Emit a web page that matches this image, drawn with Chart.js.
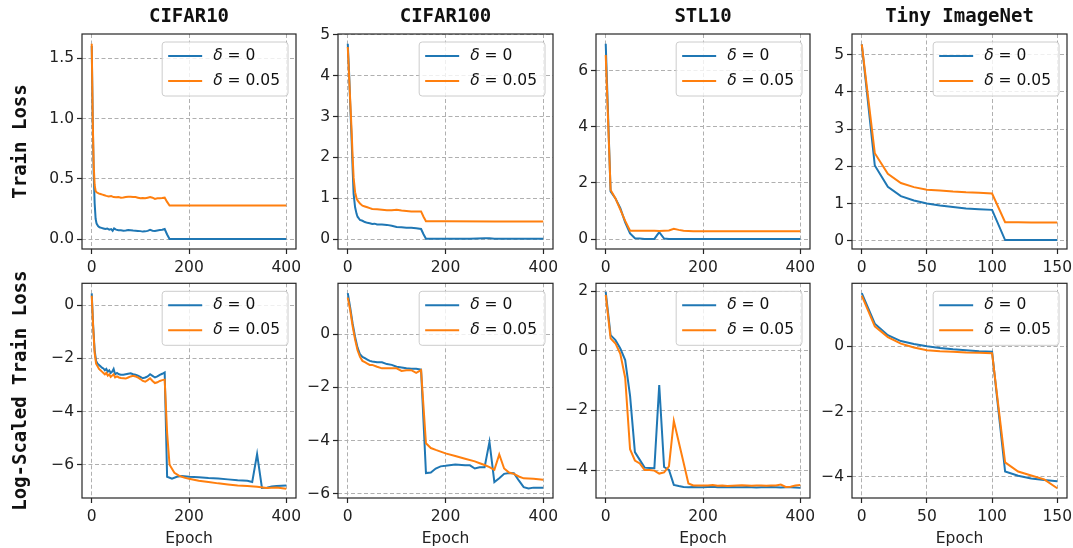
<!DOCTYPE html>
<html>
<head>
<meta charset="utf-8">
<script src="https://cdn.jsdelivr.net/npm/chart.js@4.4.1/dist/chart.umd.min.js"></script>
<style>
  html, body { margin: 0; padding: 0; background: #fff; width: 1073px; height: 548px; overflow: hidden; }
  canvas { position: absolute; }
</style>
</head>
<body>
<script>
// ---- labels ----
const datasetTitles = ['CIFAR10', 'CIFAR100', 'STL10', 'Tiny ImageNet'];
const rowTitles = ['Train Loss', 'Log-Scaled Train Loss'];
const seriesNames = ['δ = 0', 'δ = 0.05'];
const xLabel = 'Epoch';

// ---- tick values / labels ----
const xTicks400 = [0, 200, 400];
const xTicks150 = [0, 50, 100, 150];
const yTicksC10 = [0, 0.5, 1, 1.5];
const yLabelsC10 = ['0.0', '0.5', '1.0', '1.5'];
const yTicks05 = [0, 1, 2, 3, 4, 5];
const yTicksStl = [0, 2, 4, 6];
const yTicksLogC = [0, -2, -4, -6];
const yLabelsLogC = ['0', '−2', '−4', '−6'];
const yTicksLogStl = [2, 0, -2, -4];
const yLabelsLogStl = ['2', '0', '−2', '−4'];
const yTicksLogTiny = [0, -2, -4];
const yLabelsLogTiny = ['0', '−2', '−4'];

// ---- CIFAR10 train loss ----
const c10Ep0 = [0,2,4,6,8,10,13,16,20,24,28,32,36,40,43,46,50,55,60,65,70,75,80,85,90,95,100,105,110,115,120,125,130,135,140,145,150,155,160,200,250,300,340,350,400];
const c10Loss0 = [1.6,1.0,0.55,0.3,0.17,0.13,0.11,0.1,0.095,0.09,0.085,0.09,0.08,0.085,0.07,0.09,0.08,0.075,0.075,0.072,0.074,0.078,0.076,0.073,0.072,0.07,0.068,0.064,0.066,0.07,0.078,0.072,0.07,0.074,0.077,0.079,0.085,0.04,0.003,0.002,0.002,0.002,0.003,0.002,0.002];
const c10Ep5 = [0,2,4,6,8,10,14,18,22,26,30,35,40,45,50,55,60,65,70,75,80,85,90,95,100,105,110,115,120,125,130,135,140,145,150,155,160,200,300,400];
const c10Loss5 = [1.62,1.0,0.62,0.45,0.4,0.39,0.38,0.375,0.37,0.365,0.36,0.355,0.358,0.35,0.348,0.35,0.345,0.346,0.35,0.352,0.352,0.35,0.35,0.345,0.34,0.343,0.34,0.345,0.35,0.345,0.335,0.34,0.34,0.342,0.345,0.31,0.28,0.28,0.28,0.28];

// ---- CIFAR100 train loss ----
const c100Ep0 = [0,3,5,8,10,12,15,18,20,25,30,35,40,45,50,55,60,70,80,90,100,110,120,130,140,150,155,160,200,250,280,290,300,350,400];
const c100Loss0 = [4.78,4.0,3.3,2.4,1.7,1.1,0.78,0.62,0.55,0.47,0.45,0.42,0.4,0.39,0.37,0.38,0.36,0.36,0.35,0.33,0.3,0.29,0.28,0.28,0.27,0.25,0.12,0.01,0.01,0.01,0.02,0.02,0.01,0.01,0.01];
const c100Ep5 = [0,3,5,8,10,12,15,18,20,25,30,35,40,45,50,60,70,80,90,100,110,120,130,140,150,155,160,200,300,400];
const c100Loss5 = [4.7,3.9,3.4,2.6,2.0,1.5,1.15,1.0,0.95,0.87,0.82,0.8,0.78,0.76,0.74,0.73,0.72,0.71,0.71,0.72,0.7,0.69,0.68,0.68,0.68,0.55,0.44,0.44,0.43,0.43];

// ---- STL10 train loss (every 10 epochs) ----
const stlEp = [0,10,20,30,40,50,60,70,80,90,100,110,120,130,140,150,160,170,180,190,200,210,220,230,240,250,260,270,280,290,300,310,320,330,340,350,360,370,380,390,400];
const stlLoss0 = [6.95,1.7,1.45,1.1,0.6,0.2,0.03,0.02,0.01,0.01,0.01,0.25,0.02,0.01,0.01,0.01,0.01,0.01,0.01,0.01,0.01,0.01,0.01,0.01,0.01,0.01,0.01,0.01,0.01,0.01,0.01,0.01,0.01,0.01,0.01,0.01,0.01,0.01,0.01,0.01,0.01];
const stlLoss5 = [6.55,1.75,1.45,1.05,0.65,0.3,0.3,0.3,0.3,0.3,0.3,0.29,0.3,0.31,0.37,0.33,0.3,0.29,0.28,0.28,0.28,0.28,0.28,0.28,0.28,0.28,0.28,0.28,0.28,0.28,0.28,0.28,0.28,0.28,0.28,0.28,0.28,0.28,0.28,0.28,0.28];

// ---- Tiny ImageNet train loss (every 10 epochs) ----
const tinyEp = [0,10,20,30,40,50,60,70,80,90,100,110,120,130,140,150];
const tinyLoss0 = [5.27,2.02,1.45,1.2,1.08,1.0,0.95,0.91,0.87,0.85,0.83,0.02,0.02,0.02,0.02,0.02];
const tinyLoss5 = [5.27,2.35,1.8,1.55,1.44,1.37,1.35,1.32,1.3,1.29,1.27,0.5,0.5,0.49,0.49,0.49];

// ---- CIFAR10 log loss ----
const c10LogEp0 = [0,3,6,9,12,15,18,21,24,27,30,33,36,39,42,45,48,52,56,60,65,70,75,80,85,90,95,100,105,110,115,120,125,130,135,140,145,150,155,165,175,185,200,220,240,260,280,300,320,330,340,350,360,370,380,390,400];
const c10Log0 = [0.44,-0.8,-1.7,-2.1,-2.2,-2.25,-2.3,-2.35,-2.38,-2.45,-2.4,-2.5,-2.45,-2.55,-2.5,-2.4,-2.6,-2.55,-2.6,-2.62,-2.62,-2.6,-2.58,-2.56,-2.6,-2.62,-2.65,-2.7,-2.75,-2.72,-2.68,-2.6,-2.66,-2.72,-2.68,-2.62,-2.58,-2.53,-6.45,-6.52,-6.45,-6.42,-6.45,-6.47,-6.5,-6.52,-6.55,-6.58,-6.6,-6.65,-5.6,-6.87,-6.86,-6.82,-6.8,-6.79,-6.78];
const c10LogEp5 = [0,3,6,9,12,15,18,21,24,27,30,33,36,39,42,45,48,52,56,60,65,70,75,80,85,90,95,100,105,110,115,120,125,130,135,140,145,150,155,160,170,180,190,200,220,240,260,280,300,320,340,360,380,400];
const c10Log5 = [0.35,-0.85,-1.8,-2.2,-2.3,-2.4,-2.45,-2.5,-2.55,-2.6,-2.55,-2.65,-2.6,-2.7,-2.65,-2.6,-2.72,-2.68,-2.72,-2.74,-2.75,-2.76,-2.72,-2.68,-2.66,-2.68,-2.72,-2.78,-2.85,-2.88,-2.82,-2.75,-2.85,-2.93,-2.9,-2.85,-2.82,-2.8,-4.8,-6.0,-6.3,-6.42,-6.48,-6.53,-6.6,-6.65,-6.7,-6.74,-6.78,-6.8,-6.83,-6.87,-6.86,-6.9];

// ---- CIFAR100 log loss ----
const c100LogEp0 = [0,5,10,15,20,25,30,35,40,45,50,60,70,80,90,100,110,120,130,140,150,160,170,180,190,200,220,240,250,260,270,280,290,300,310,320,330,340,350,360,370,380,400];
const c100Log0 = [1.55,1.0,0.4,-0.1,-0.5,-0.75,-0.85,-0.9,-0.95,-1.0,-1.02,-1.05,-1.05,-1.12,-1.15,-1.22,-1.25,-1.28,-1.3,-1.3,-1.33,-5.22,-5.2,-5.05,-4.97,-4.95,-4.9,-4.93,-4.93,-5.05,-5.0,-5.0,-4.05,-5.56,-5.42,-5.25,-5.22,-5.23,-5.5,-5.75,-5.8,-5.77,-5.77];
const c100LogEp5 = [0,5,10,15,20,25,30,35,40,45,50,60,70,80,90,100,110,120,130,140,150,160,170,180,200,220,240,260,270,280,290,300,310,320,330,340,350,360,380,400];
const c100Log5 = [1.38,0.9,0.3,-0.2,-0.6,-0.85,-1.0,-1.05,-1.1,-1.15,-1.15,-1.22,-1.28,-1.28,-1.28,-1.28,-1.38,-1.35,-1.35,-1.45,-1.35,-4.1,-4.28,-4.35,-4.48,-4.58,-4.68,-4.78,-4.85,-4.92,-5.0,-5.1,-4.52,-5.05,-5.2,-5.25,-5.35,-5.42,-5.44,-5.47];

// ---- STL10 log loss (every 10 epochs) ----
const stlLog0 = [1.98,0.53,0.36,0.08,-0.31,-1.5,-3.4,-3.66,-3.92,-3.93,-3.94,-1.15,-3.9,-4.0,-4.5,-4.54,-4.57,-4.58,-4.57,-4.58,-4.58,-4.57,-4.56,-4.58,-4.57,-4.58,-4.57,-4.58,-4.58,-4.57,-4.58,-4.59,-4.58,-4.58,-4.57,-4.58,-4.59,-4.58,-4.58,-4.59,-4.6];
const stlLog5 = [1.88,0.42,0.25,-0.1,-0.9,-3.3,-3.68,-3.78,-4.0,-4.0,-4.02,-4.12,-4.08,-3.88,-2.35,-3.05,-3.75,-4.45,-4.52,-4.52,-4.52,-4.52,-4.5,-4.53,-4.52,-4.54,-4.53,-4.52,-4.51,-4.52,-4.53,-4.52,-4.52,-4.53,-4.52,-4.52,-4.49,-4.57,-4.56,-4.52,-4.5];

// ---- Tiny ImageNet log loss ----
const tinyLog0 = [1.63,0.69,0.34,0.16,0.07,0.0,-0.05,-0.09,-0.12,-0.15,-0.17,-3.84,-3.97,-4.05,-4.1,-4.14];
const tinyLog5 = [1.55,0.61,0.28,0.08,-0.04,-0.12,-0.15,-0.17,-0.19,-0.2,-0.21,-3.56,-3.84,-3.96,-4.08,-4.35];

const pts = (ep, v) => ep.map((e, i) => ({ x: e, y: v[i] }));

const panels = [
  { r: 0, c: 0, s0: pts(c10Ep0, c10Loss0), s5: pts(c10Ep5, c10Loss5), xmin: -20, xmax: 420, xt: xTicks400, ymin: -0.08, ymax: 1.70, yt: yTicksC10, yl: yLabelsC10 },
  { r: 0, c: 1, s0: pts(c100Ep0, c100Loss0), s5: pts(c100Ep5, c100Loss5), xmin: -20, xmax: 420, xt: xTicks400, ymin: -0.24, ymax: 5.02, yt: yTicks05, yl: yTicks05.map(String) },
  { r: 0, c: 2, s0: pts(stlEp, stlLoss0), s5: pts(stlEp, stlLoss5), xmin: -20, xmax: 420, xt: xTicks400, ymin: -0.35, ymax: 7.3, yt: yTicksStl, yl: yTicksStl.map(String) },
  { r: 0, c: 3, s0: pts(tinyEp, tinyLoss0), s5: pts(tinyEp, tinyLoss5), xmin: -7.5, xmax: 157.5, xt: xTicks150, ymin: -0.22, ymax: 5.55, yt: yTicks05, yl: yTicks05.map(String) },
  { r: 1, c: 0, s0: pts(c10LogEp0, c10Log0), s5: pts(c10LogEp5, c10Log5), xmin: -20, xmax: 420, xt: xTicks400, ymin: -7.25, ymax: 0.82, yt: yTicksLogC, yl: yLabelsLogC },
  { r: 1, c: 1, s0: pts(c100LogEp0, c100Log0), s5: pts(c100LogEp5, c100Log5), xmin: -20, xmax: 420, xt: xTicks400, ymin: -6.16, ymax: 1.92, yt: yTicksLogC, yl: yLabelsLogC },
  { r: 1, c: 2, s0: pts(stlEp, stlLog0), s5: pts(stlEp, stlLog5), xmin: -20, xmax: 420, xt: xTicks400, ymin: -4.94, ymax: 2.27, yt: yTicksLogStl, yl: yLabelsLogStl },
  { r: 1, c: 3, s0: pts(tinyEp, tinyLog0), s5: pts(tinyEp, tinyLog5), xmin: -7.5, xmax: 157.5, xt: xTicks150, ymin: -4.65, ymax: 1.93, yt: yTicksLogTiny, yl: yLabelsLogTiny }
];

// frame around the plot area + matplotlib style legend box in the upper right
const boxAndLegend = {
  id: 'boxAndLegend',
  afterDatasetsDraw(chart) {
    const { ctx, chartArea: a } = chart;
    ctx.save();
    ctx.strokeStyle = '#262626';
    ctx.lineWidth = 1.2;
    ctx.strokeRect(a.left, a.top, a.right - a.left, a.bottom - a.top);

    const sets = chart.data.datasets;
    const it = 'italic 15.5px "DejaVu Sans"', rg = '15.5px "DejaVu Sans"';
    let tw = 0;
    sets.forEach(d => {
      ctx.font = it; let w = ctx.measureText(d.label[0]).width;
      ctx.font = rg; w += ctx.measureText(d.label.slice(1)).width;
      tw = Math.max(tw, w);
    });
    const bw = 51 + tw + 8, bh = 54;
    const bx = a.right - 8 - bw, by = a.top + 8, rr = 3;
    ctx.beginPath();
    ctx.moveTo(bx + rr, by);
    ctx.arcTo(bx + bw, by, bx + bw, by + bh, rr);
    ctx.arcTo(bx + bw, by + bh, bx, by + bh, rr);
    ctx.arcTo(bx, by + bh, bx, by, rr);
    ctx.arcTo(bx, by, bx + bw, by, rr);
    ctx.closePath();
    ctx.fillStyle = 'rgba(255,255,255,0.8)';
    ctx.fill();
    ctx.strokeStyle = '#cccccc';
    ctx.lineWidth = 1;
    ctx.stroke();

    sets.forEach((d, i) => {
      const y = by + 14 + i * 25;
      ctx.strokeStyle = d.borderColor;
      ctx.lineWidth = 2;
      ctx.beginPath();
      ctx.moveTo(bx + 6, y);
      ctx.lineTo(bx + 40, y);
      ctx.stroke();
      ctx.fillStyle = '#111';
      ctx.textBaseline = 'middle';
      ctx.font = it;
      ctx.fillText(d.label[0], bx + 51, y);
      const w0 = ctx.measureText(d.label[0]).width;
      ctx.font = rg;
      ctx.fillText(d.label.slice(1), bx + 51 + w0, y);
    });
    ctx.restore();
  }
};

const boxLefts = [82, 338, 596, 852];
const boxRights = [296, 553, 810, 1067];
const boxTops = [34, 283];
const boxH = 215;

panels.forEach(p => {
  const L = p.c === 0 ? 82 : 40, R = 20;
  const T = p.r === 0 ? 34 : 12, B = p.r === 0 ? 32 : 50;
  const bw = boxRights[p.c] - boxLefts[p.c];
  const cv = document.createElement('canvas');
  cv.width = L + bw + R;
  cv.height = T + boxH + B;
  cv.style.left = (boxLefts[p.c] - L) + 'px';
  cv.style.top = (boxTops[p.r] - T) + 'px';
  document.body.appendChild(cv);

  const tickFont = { family: 'DejaVu Sans', size: 15.5 };
  new Chart(cv, {
    type: 'line',
    data: {
      datasets: [
        { label: seriesNames[0], data: p.s0, borderColor: '#1f77b4', borderWidth: 2, pointRadius: 0, tension: 0, order: 1 },
        { label: seriesNames[1], data: p.s5, borderColor: '#ff7f0e', borderWidth: 2, pointRadius: 0, tension: 0, order: 0 }
      ]
    },
    options: {
      responsive: false,
      animation: false,
      devicePixelRatio: 1,
      layout: { padding: { left: 0, right: R, top: p.r === 0 ? 0 : T, bottom: 0 } },
      plugins: {
        legend: { display: false },
        tooltip: { enabled: false },
        title: {
          display: p.r === 0,
          fullSize: false,
          text: datasetTitles[p.c],
          color: '#111',
          font: { family: 'DejaVu Sans Mono', size: 19, weight: 'bold', lineHeight: 1.2 },
          padding: { top: 6, bottom: 5.2 }
        }
      },
      scales: {
        x: {
          type: 'linear',
          min: p.xmin, max: p.xmax,
          afterBuildTicks: ax => { ax.ticks = p.xt.map(v => ({ value: v })); },
          afterFit: ax => { ax.height = B; },
          ticks: { font: tickFont, color: '#222', padding: 5, maxRotation: 0, autoSkip: false },
          grid: { color: '#b0b0b0', lineWidth: 1, tickColor: '#262626', tickWidth: 1.2, tickLength: 5, tickBorderDash: [] },
          border: { display: false, dash: [4, 2.5] },
          title: { display: p.r === 1, text: xLabel, color: '#222', font: { family: 'DejaVu Sans', size: 15.5, lineHeight: 1.2 }, padding: { top: 0, bottom: 0 } }
        },
        y: {
          min: p.ymin, max: p.ymax,
          afterBuildTicks: ax => { ax.ticks = p.yt.map(v => ({ value: v })); },
          afterFit: ax => { ax.width = L; },
          ticks: { font: tickFont, color: '#222', padding: 3, autoSkip: false, callback: (v, i) => p.yl[i] },
          grid: { color: '#b0b0b0', lineWidth: 1, tickColor: '#262626', tickWidth: 1.2, tickLength: 5, tickBorderDash: [] },
          border: { display: false, dash: [4, 2.5] },
          title: { display: p.c === 0, text: rowTitles[p.r], color: '#111', font: { family: 'DejaVu Sans Mono', size: 19, weight: 'bold', lineHeight: 1.2 }, padding: { top: 10, bottom: 0 } }
        }
      }
    },
    plugins: [boxAndLegend]
  });
});
</script>
</body>
</html>
